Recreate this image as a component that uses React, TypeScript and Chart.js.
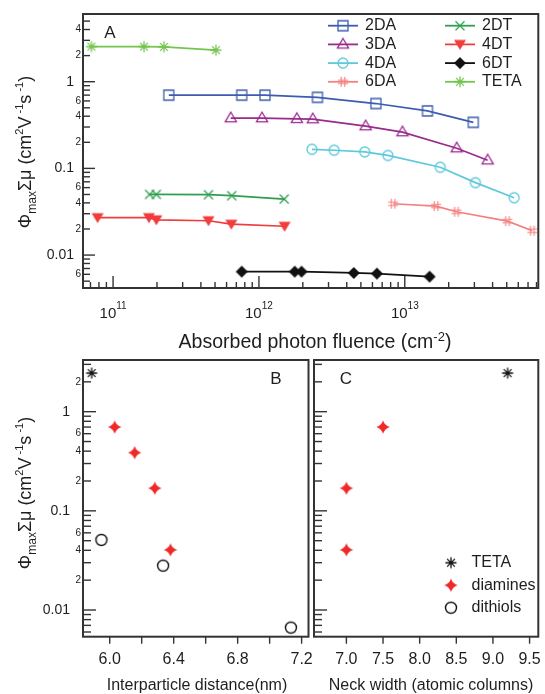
import React, { useEffect, useRef } from 'react';
import { Chart, registerables } from 'chart.js';

Chart.register(...registerables);

const FONT = '"Liberation Sans", Arial, Helvetica, sans-serif';
const TXT = '#1e1e1e';
const AX = '#333333';

// ---------------- Panel A: mobility vs absorbed photon fluence ----------------
const fluence2DA = [2.41e11, 7.62e11, 1.1e12, 2.52e12, 6.34e12, 1.43e13, 2.95e13];
const mobility2DA = [0.7, 0.7, 0.7, 0.66, 0.56, 0.46, 0.34];

const fluence3DA = [6.41e11, 1.05e12, 1.82e12, 2.34e12, 5.39e12, 9.64e12, 2.27e13, 3.7e13];
const mobility3DA = [0.38, 0.38, 0.373, 0.37, 0.307, 0.262, 0.171, 0.124];

const fluence4DA = [2.31e12, 3.28e12, 5.31e12, 7.66e12, 1.75e13, 3.05e13, 5.62e13];
const mobility4DA = [0.166, 0.162, 0.155, 0.141, 0.103, 0.0685, 0.0459];

const fluence6DA = [8.32e12, 1.64e13, 2.26e13, 5.06e13, 7.49e13];
const mobility6DA = [0.0391, 0.0367, 0.0316, 0.0246, 0.0191];

const fluence2DT = [1.78e11, 1.98e11, 4.51e11, 6.51e11, 1.49e12];
const mobility2DT = [0.0501, 0.0501, 0.0497, 0.0484, 0.0442];

const fluence4DT = [7.83e10, 1.76e11, 1.98e11, 4.51e11, 6.47e11, 1.5e12];
const mobility4DT = [0.027, 0.027, 0.0255, 0.0249, 0.0227, 0.0215];

const fluence6DT = [7.62e11, 1.76e12, 1.96e12, 4.47e12, 6.44e12, 1.48e13];
const mobility6DT = [0.00644, 0.00644, 0.00644, 0.00622, 0.00611, 0.00564];

const fluenceTETA = [7.1e10, 1.63e11, 2.23e11, 5.07e11];
const mobilityTETA = [2.54, 2.54, 2.52, 2.31];

const aXLabels = [1e11, 1e12, 1e13];
const aYLabels = [4, 2, 1, 0.6, 0.4, 0.2, 0.1, 0.06, 0.04, 0.02, 0.01, 0.006];

// ---------------- Panel B: mobility vs interparticle distance ----------------
const distTETA = [5.887];
const mobTETA_B = [2.45];
const distDiamines = [6.031, 6.156, 6.282, 6.38];
const mobDiamines_B = [0.7, 0.386, 0.169, 0.0404];
const distDithiols = [5.948, 6.334, 7.133];
const mobDithiols_B = [0.0509, 0.028, 0.00665];

const bXTicks = [6.0, 6.2, 6.4, 6.6, 6.8, 7.0, 7.2];
const bXLabels = [6.0, 6.4, 6.8, 7.2];
const bYLabels = [2, 1, 0.6, 0.4, 0.2, 0.1, 0.06, 0.04, 0.02, 0.01];

// ---------------- Panel C: mobility vs neck width ----------------
const neckTETA = [9.2];
const mobTETA_C = [2.45];
const neckDiamines = [7.5, 7.0, 7.0];
const mobDiamines_C = [0.7, 0.169, 0.0404];

const cXTicks = [7.0, 7.5, 8.0, 8.5, 9.0, 9.5];

// ------------------------------------------------------------------------------

type Run = { t: string; s: number; dy: number };

function makeMarker(kind: string, color: string): HTMLCanvasElement {
  const c = document.createElement('canvas');
  c.width = 18;
  c.height = 18;
  const g = c.getContext('2d')!;
  const m = 9;
  g.strokeStyle = color;
  g.fillStyle = color;
  g.lineWidth = 1.3;
  g.beginPath();
  switch (kind) {
    case 'square':
      g.rect(m - 5, m - 5, 10, 10);
      g.stroke();
      break;
    case 'triangle':
      g.moveTo(m, m - 6);
      g.lineTo(m + 5.6, m + 3.6);
      g.lineTo(m - 5.6, m + 3.6);
      g.closePath();
      g.stroke();
      break;
    case 'circle':
      g.arc(m, m, 5, 0, Math.PI * 2);
      g.stroke();
      break;
    case 'hash':
      g.lineWidth = 1.1;
      g.moveTo(m - 1.8, m - 5);
      g.lineTo(m - 1.8, m + 5);
      g.moveTo(m + 1.8, m - 5);
      g.lineTo(m + 1.8, m + 5);
      g.moveTo(m - 5, m - 1.8);
      g.lineTo(m + 5, m - 1.8);
      g.moveTo(m - 5, m + 1.8);
      g.lineTo(m + 5, m + 1.8);
      g.stroke();
      break;
    case 'x':
      g.moveTo(m - 4.5, m - 4.5);
      g.lineTo(m + 4.5, m + 4.5);
      g.moveTo(m + 4.5, m - 4.5);
      g.lineTo(m - 4.5, m + 4.5);
      g.stroke();
      break;
    case 'down':
      g.moveTo(m - 6, m - 4.5);
      g.lineTo(m + 6, m - 4.5);
      g.lineTo(m, m + 5.5);
      g.closePath();
      g.fill();
      break;
    case 'diamond':
      g.moveTo(m, m - 6);
      g.lineTo(m + 6, m);
      g.lineTo(m, m + 6);
      g.lineTo(m - 6, m);
      g.closePath();
      g.fill();
      break;
    case 'asterisk': {
      const r = 5.5;
      const d = r * Math.SQRT1_2;
      g.moveTo(m - r, m);
      g.lineTo(m + r, m);
      g.moveTo(m, m - r);
      g.lineTo(m, m + r);
      g.moveTo(m - d, m - d);
      g.lineTo(m + d, m + d);
      g.moveTo(m + d, m - d);
      g.lineTo(m - d, m + d);
      g.stroke();
      break;
    }
    case 'star4': {
      const o = 6.8;
      const k = 1.5;
      g.moveTo(m, m - o);
      g.quadraticCurveTo(m + k, m - k, m + o, m);
      g.quadraticCurveTo(m + k, m + k, m, m + o);
      g.quadraticCurveTo(m - k, m + k, m - o, m);
      g.quadraticCurveTo(m - k, m - k, m, m - o);
      g.closePath();
      g.fill();
      break;
    }
    case 'ocircle':
      g.lineWidth = 1.4;
      g.arc(m, m, 5.5, 0, Math.PI * 2);
      g.stroke();
      break;
  }
  return c;
}

function line(ctx: CanvasRenderingContext2D, x0: number, y0: number, x1: number, y1: number) {
  ctx.beginPath();
  ctx.moveTo(x0, y0);
  ctx.lineTo(x1, y1);
  ctx.stroke();
}

function logTickList(min: number, max: number) {
  const out: { v: number; m: number }[] = [];
  for (let e = Math.floor(Math.log10(min)); e <= Math.ceil(Math.log10(max)); e++) {
    for (let m = 1; m <= 9; m++) {
      const v = m * Math.pow(10, e);
      if (v > min && v < max) out.push({ v, m });
    }
  }
  return out;
}

function isPow10(v: number) {
  const l = Math.log10(v);
  return Math.abs(l - Math.round(l)) < 1e-6;
}

function mantissa(v: number) {
  return String(Math.round(v / Math.pow(10, Math.floor(Math.log10(v) + 1e-9))));
}

function drawRich(
  ctx: CanvasRenderingContext2D,
  runs: Run[],
  x: number,
  y: number,
  rotate = false,
) {
  ctx.save();
  ctx.translate(x, y);
  if (rotate) ctx.rotate(-Math.PI / 2);
  ctx.textAlign = 'left';
  ctx.textBaseline = 'alphabetic';
  let total = 0;
  const widths = runs.map((r) => {
    ctx.font = `${r.s}px ${FONT}`;
    const w = ctx.measureText(r.t).width;
    total += w;
    return w;
  });
  let cx = -total / 2;
  runs.forEach((r, i) => {
    ctx.font = `${r.s}px ${FONT}`;
    ctx.fillText(r.t, cx, r.dy);
    cx += widths[i];
  });
  ctx.restore();
}

function yTitleRuns(s: number): Run[] {
  const sub = Math.round(s * 0.65);
  const sup = Math.round(s * 0.62);
  return [
    { t: 'Φ', s, dy: 0 },
    { t: 'max', s: sub, dy: s * 0.25 },
    { t: 'Σμ', s, dy: 0 },
    { t: ' (cm', s, dy: 0 },
    { t: '2', s: sup, dy: -s * 0.45 },
    { t: 'V', s, dy: 0 },
    { t: ' -1', s: sup, dy: -s * 0.45 },
    { t: 's', s, dy: 0 },
    { t: ' -1', s: sup, dy: -s * 0.45 },
    { t: ')', s, dy: 0 },
  ];
}

function drawLogYAxis(
  chart: any,
  majorLen: number,
  minorLen: number,
  labels: number[] | null,
  majorGap: number,
) {
  const { ctx, chartArea: a, scales } = chart;
  const y = scales.y;
  ctx.strokeStyle = AX;
  ctx.lineWidth = 1.4;
  for (const { v, m } of logTickList(y.min, y.max)) {
    const py = y.getPixelForValue(v);
    if (py < a.top + 1.5 || py > a.bottom - 1.5) continue;
    line(ctx, a.left, py, a.left + (m === 1 ? majorLen : minorLen), py);
  }
  if (labels) {
    ctx.fillStyle = TXT;
    ctx.textAlign = 'right';
    ctx.textBaseline = 'middle';
    for (const v of labels) {
      const py = y.getPixelForValue(v);
      if (isPow10(v)) {
        ctx.font = `14px ${FONT}`;
        ctx.fillText(String(v), a.left - majorGap, py);
      } else {
        ctx.font = `10px ${FONT}`;
        ctx.fillText(mantissa(v), a.left - 2, py);
      }
    }
  }
}

function drawFrame(chart: any) {
  const { ctx, chartArea: a } = chart;
  ctx.strokeStyle = AX;
  ctx.lineWidth = 2;
  ctx.strokeRect(a.left, a.top, a.right - a.left, a.bottom - a.top);
}

function drawLinearXAxis(chart: any, ticks: number[], labels: number[]) {
  const { ctx, chartArea: a, scales } = chart;
  const x = scales.x;
  ctx.strokeStyle = AX;
  ctx.lineWidth = 1.4;
  for (const v of ticks) {
    const px = x.getPixelForValue(v);
    line(ctx, px, a.bottom, px, a.bottom + 7);
  }
  ctx.fillStyle = TXT;
  ctx.font = `16px ${FONT}`;
  ctx.textAlign = 'center';
  ctx.textBaseline = 'middle';
  for (const v of labels) {
    ctx.fillText(v.toFixed(1), x.getPixelForValue(v), a.bottom + 22.5);
  }
}

function ds(xs: number[], ys: number[], color: string, marker: HTMLCanvasElement, showLine: boolean) {
  return {
    data: xs.map((x, i) => ({ x, y: ys[i] })),
    borderColor: color,
    backgroundColor: color,
    borderWidth: 1.7,
    showLine,
    tension: 0,
    pointStyle: marker,
    pointRadius: 5,
    clip: false as const,
  };
}

function baseOptions(padding: any, xs: any, ys: any) {
  return {
    responsive: false,
    animation: false as const,
    devicePixelRatio: 1,
    events: [] as any[],
    layout: { padding },
    plugins: { legend: { display: false }, tooltip: { enabled: false }, title: { display: false } },
    scales: { x: { display: false, ...xs }, y: { display: false, ...ys } },
  };
}

export default function App() {
  const aRef = useRef<HTMLCanvasElement>(null);
  const bRef = useRef<HTMLCanvasElement>(null);
  const cRef = useRef<HTMLCanvasElement>(null);

  useEffect(() => {
    const C2DA = '#3d5cb0';
    const C3DA = '#9a2a8c';
    const C4DA = '#5ec8dc';
    const C6DA = '#f58080';
    const C2DT = '#2f9e50';
    const C4DT = '#f03c3c';
    const C6DT = '#111111';
    const CTETA = '#74c450';

    const seriesA = [
      { name: '2DA', xs: fluence2DA, ys: mobility2DA, color: C2DA, mk: makeMarker('square', C2DA) },
      { name: '3DA', xs: fluence3DA, ys: mobility3DA, color: C3DA, mk: makeMarker('triangle', C3DA) },
      { name: '4DA', xs: fluence4DA, ys: mobility4DA, color: C4DA, mk: makeMarker('circle', C4DA) },
      { name: '6DA', xs: fluence6DA, ys: mobility6DA, color: C6DA, mk: makeMarker('hash', C6DA) },
      { name: '2DT', xs: fluence2DT, ys: mobility2DT, color: C2DT, mk: makeMarker('x', C2DT) },
      { name: '4DT', xs: fluence4DT, ys: mobility4DT, color: C4DT, mk: makeMarker('down', C4DT) },
      { name: '6DT', xs: fluence6DT, ys: mobility6DT, color: C6DT, mk: makeMarker('diamond', C6DT) },
      { name: 'TETA', xs: fluenceTETA, ys: mobilityTETA, color: CTETA, mk: makeMarker('asterisk', CTETA) },
    ];

    const decoA = {
      id: 'decoA',
      afterDraw(chart: any) {
        const { ctx, chartArea: a, scales } = chart;
        const x = scales.x;
        ctx.save();
        drawLogYAxis(chart, 12, 7, aYLabels, 9);
        ctx.strokeStyle = AX;
        ctx.lineWidth = 1.4;
        for (const { v, m } of logTickList(x.min, x.max)) {
          const px = x.getPixelForValue(v);
          line(ctx, px, a.bottom, px, a.bottom - (m === 1 ? 12 : 6));
        }
        drawFrame(chart);
        ctx.fillStyle = TXT;
        for (const v of aXLabels) {
          const e = Math.round(Math.log10(v));
          drawRich(
            ctx,
            [
              { t: '10', s: 15, dy: 0 },
              { t: String(e), s: 10, dy: -9 },
            ],
            x.getPixelForValue(v),
            a.bottom + 30,
          );
        }
        drawRich(
          ctx,
          [
            { t: 'Absorbed photon fluence (cm', s: 19.5, dy: 0 },
            { t: '-2', s: 13, dy: -7 },
            { t: ')', s: 19.5, dy: 0 },
          ],
          315,
          a.bottom + 60,
        );
        drawRich(ctx, yTitleRuns(18), 31, 152, true);
        ctx.font = `17px ${FONT}`;
        ctx.textAlign = 'center';
        ctx.textBaseline = 'middle';
        ctx.fillText('A', 110, 33);
        // legend (two columns)
        const cols = [
          [0, 1, 2, 3],
          [4, 5, 6, 7],
        ];
        const colX = [328, 445];
        cols.forEach((idxs, ci) => {
          idxs.forEach((si, ri) => {
            const s = seriesA[si];
            const ly = 25.7 + ri * 18.7;
            const x0 = colX[ci];
            ctx.strokeStyle = s.color;
            ctx.lineWidth = 1.8;
            line(ctx, x0, ly, x0 + 30, ly);
            ctx.drawImage(s.mk, x0 + 15 - 9, ly - 9);
            ctx.fillStyle = TXT;
            ctx.font = `16px ${FONT}`;
            ctx.textAlign = 'left';
            ctx.textBaseline = 'middle';
            ctx.fillText(s.name, x0 + 37, ly);
          });
        });
        ctx.restore();
      },
    };

    const chartA = new Chart(aRef.current!, {
      type: 'scatter',
      data: { datasets: seriesA.map((s) => ds(s.xs, s.ys, s.color, s.mk, true)) as any },
      options: baseOptions(
        { left: 83, top: 14, right: 4, bottom: 406 },
        { type: 'logarithmic', min: 6.22e10, max: 8.23e13 },
        { type: 'logarithmic', min: 0.00417, max: 6.04 },
      ) as any,
      plugins: [decoA],
    });

    const tetaBlack = makeMarker('asterisk', '#111');
    const diamineMk = makeMarker('star4', '#f02828');
    const dithiolMk = makeMarker('ocircle', '#111');

    const decoB = {
      id: 'decoB',
      afterDraw(chart: any) {
        const { ctx, chartArea: a } = chart;
        ctx.save();
        drawLogYAxis(chart, 13, 8, bYLabels, 13);
        drawLinearXAxis(chart, bXTicks, bXLabels);
        drawFrame(chart);
        ctx.fillStyle = TXT;
        ctx.font = `16px ${FONT}`;
        ctx.textAlign = 'center';
        ctx.textBaseline = 'alphabetic';
        ctx.fillText('Interparticle distance(nm)', 197, 690);
        ctx.font = `17px ${FONT}`;
        ctx.textBaseline = 'middle';
        ctx.fillText('B', 276, a.top + 19);
        drawRich(ctx, yTitleRuns(18), 31, 493, true);
        ctx.restore();
      },
    };

    const chartB = new Chart(bRef.current!, {
      type: 'scatter',
      data: {
        datasets: [
          ds(distTETA, mobTETA_B, '#111', tetaBlack, false),
          ds(distDiamines, mobDiamines_B, '#f02828', diamineMk, false),
          ds(distDithiols, mobDithiols_B, '#111', dithiolMk, false),
        ] as any,
      },
      options: baseOptions(
        { left: 83, top: 360, right: 545 - 308.5, bottom: 694 - 636.7 },
        { type: 'linear', min: 5.833, max: 7.243 },
        { type: 'logarithmic', min: 0.00538, max: 3.32 },
      ) as any,
      plugins: [decoB],
    });

    const decoC = {
      id: 'decoC',
      afterDraw(chart: any) {
        const { ctx, chartArea: a } = chart;
        ctx.save();
        drawLogYAxis(chart, 13, 8, null, 13);
        drawLinearXAxis(chart, cXTicks, cXTicks);
        drawFrame(chart);
        ctx.fillStyle = TXT;
        ctx.font = `16px ${FONT}`;
        ctx.textAlign = 'center';
        ctx.textBaseline = 'alphabetic';
        ctx.fillText('Neck width (atomic columns)', 431, 690);
        ctx.font = `17px ${FONT}`;
        ctx.textBaseline = 'middle';
        ctx.fillText('C', 346, a.top + 19);
        // legend
        const items: [HTMLCanvasElement, string][] = [
          [tetaBlack, 'TETA'],
          [diamineMk, 'diamines'],
          [dithiolMk, 'dithiols'],
        ];
        items.forEach(([mk, label], i) => {
          const ly = 562.7 + i * 22.5;
          ctx.drawImage(mk, 451 - 9, ly - 9);
          ctx.fillStyle = TXT;
          ctx.font = `16px ${FONT}`;
          ctx.textAlign = 'left';
          ctx.textBaseline = 'middle';
          ctx.fillText(label, 471.5, ly);
        });
        ctx.restore();
      },
    };

    const chartC = new Chart(cRef.current!, {
      type: 'scatter',
      data: {
        datasets: [
          ds(neckTETA, mobTETA_C, '#111', tetaBlack, false),
          ds(neckDiamines, mobDiamines_C, '#f02828', diamineMk, false),
        ] as any,
      },
      options: baseOptions(
        { left: 314, top: 360, right: 545 - 540.5, bottom: 694 - 636.7 },
        { type: 'linear', min: 6.558, max: 9.619 },
        { type: 'logarithmic', min: 0.00538, max: 3.32 },
      ) as any,
      plugins: [decoC],
    });

    return () => {
      chartA.destroy();
      chartB.destroy();
      chartC.destroy();
    };
  }, []);

  const cs: React.CSSProperties = { position: 'absolute', left: 0, top: 0 };
  return (
    <div style={{ position: 'absolute', left: 0, top: 0, width: 545, height: 694, background: '#fff' }}>
      <canvas ref={aRef} width={545} height={694} style={cs} />
      <canvas ref={bRef} width={545} height={694} style={cs} />
      <canvas ref={cRef} width={545} height={694} style={cs} />
    </div>
  );
}
